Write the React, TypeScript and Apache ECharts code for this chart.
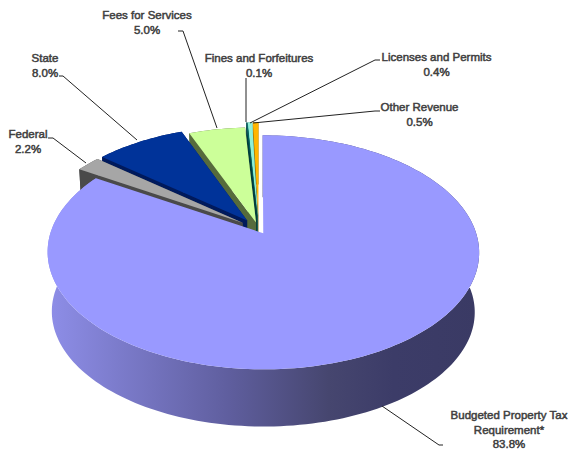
import React, { useEffect, useRef } from "react";
import * as echarts from "echarts";

const categories = ["Budgeted Property Tax Requirement*", "Federal", "State", "Fees for Services", "Fines and Forfeitures", "Licenses and Permits", "Other Revenue"];
const shares = [83.8, 2.2, 8.0, 5.0, 0.1, 0.4, 0.5];
const explode = [0.043, 0.095, 0.095, 0.06, 0.12, 0.12, 0.12];
const topColors = ["#9999FF", "#A6A6A6", "#003399", "#CCFF99", "#006666", "#8FF0D8", "#FFB500"];
const sideColors = ["#3C3C68", "#4A4A4A", "#001A5C", "#566B3C", "#003C3C", "#3C8C78", "#8C6400"];
const paintOrder = [6, 5, 4, 3, 2, 1, 0];
const labelLines = [
  "Budgeted Property Tax\nRequirement*\n83.8%",
  "Federal\n2.2%",
  "State\n8.0%",
  "Fees for Services\n5.0%",
  "Fines and Forfeitures\n0.1%",
  "Licenses and Permits\n0.4%",
  "Other Revenue\n0.5%",
];
const labelAnchors = [[509, 408], [28, 127], [45, 51], [147, 8], [259, 51], [436.5, 50], [419.5, 100]];
const leaders = [
  [[382, 406], [439, 445], [443, 445]],
  [[48, 138], [53, 138], [86, 163]],
  [[59, 76], [63, 76], [137, 140]],
  [[178, 31], [183, 31], [217, 128]],
  [[246, 78], [246, 122]],
  [[250, 123], [375, 60], [380, 60]],
  [[253, 123], [375, 111], [380, 111]],
];

const CX = 258.8, CY = 229, R = 211.6, S = 112.5, K = 0.162, DEPTH = 60, SHRINK = 0.98;

function top(X: number, Y: number): number[] {
  const w = 1 + K * Y;
  return [CX + (R * X) / w, CY - (S * Y) / w];
}
function bottom(X: number, Y: number): number[] {
  const p = top(X, Y);
  return [CX + (p[0] - CX) * SHRINK, CY + (p[1] - CY) * SHRINK + DEPTH];
}

function App() {
  const ref = useRef<HTMLDivElement>(null);
  useEffect(() => {
    const chart = echarts.init(ref.current!, undefined, { renderer: "svg" });
    const total = shares.reduce((a, b) => a + b, 0);
    const starts: number[] = [];
    let acc = 0;
    shares.forEach((v) => { starts.push(acc); acc += (v / total) * 360; });
    const rad = (d: number) => (d * Math.PI) / 180;
    const mainSide = new echarts.graphic.LinearGradient(48, 0, 480, 0, [
      { offset: 0, color: "#8E8EE8" },
      { offset: 0.42, color: "#5F5E9E" },
      { offset: 0.65, color: "#46466F" },
      { offset: 0.8, color: "#3C3C68" },
      { offset: 1, color: "#3A3A64" },
    ], true);

    chart.setOption({
      animation: false,
      backgroundColor: "#ffffff",
      series: [{
        type: "custom",
        coordinateSystem: "none",
        silent: true,
        data: paintOrder.map((i) => [i, shares[i]]),
        renderItem: (_p: any, api: any) => {
          const i = api.value(0);
          const sweep = (api.value(1) / total) * 360;
          const a0 = starts[i], a1 = a0 + sweep, mid = rad((a0 + a1) / 2);
          const ox = Math.sin(mid) * explode[i], oy = Math.cos(mid) * explode[i];
          const n = Math.max(2, Math.ceil(sweep / 1.5));
          const rim: number[][] = [];
          for (let k = 0; k <= n; k++) {
            const a = rad(a0 + ((a1 - a0) * k) / n);
            rim.push([ox + Math.sin(a), oy + Math.cos(a)]);
          }
          const topRim = rim.map((p) => top(p[0], p[1]));
          const botRim = rim.map((p) => bottom(p[0], p[1]));
          const at = top(ox, oy), ab = bottom(ox, oy);
          const sideFill = i === 0 ? mainSide : sideColors[i];
          const poly = (points: number[][], fill: any) => ({
            type: "polygon", shape: { points }, style: { fill, stroke: "none" },
          });
          const children: any[] = [];
          if (i !== 0) {
            children.push(poly([at, topRim[n], botRim[n], ab], sideColors[i]));
            children.push(poly([at, topRim[0], botRim[0], ab], sideColors[i]));
          }
          children.push(poly([...topRim, ...botRim.slice().reverse()], sideFill));
          children.push(poly([at, ...topRim], topColors[i]));
          return { type: "group", children };
        },
      }],
      graphic: [
        ...leaders.map((points) => ({
          type: "polyline", z: 10, shape: { points },
          style: { stroke: "#222222", lineWidth: 1, fill: "none" },
        })),
        ...labelLines.map((text, i) => ({
          type: "text", z: 11, x: labelAnchors[i][0], y: labelAnchors[i][1],
          style: {
            text, fill: "#404040", stroke: "#404040", lineWidth: 0.5, align: "center", verticalAlign: "top",
            font: "11.5px 'Liberation Sans'", lineHeight: 14.5,
          },
        })),
      ],
    });
    return () => chart.dispose();
  }, []);
  document.body.style.margin = "0";
  return <div ref={ref} title={categories.join(", ")} style={{ width: 568, height: 449 }} />;
}

export default App;
